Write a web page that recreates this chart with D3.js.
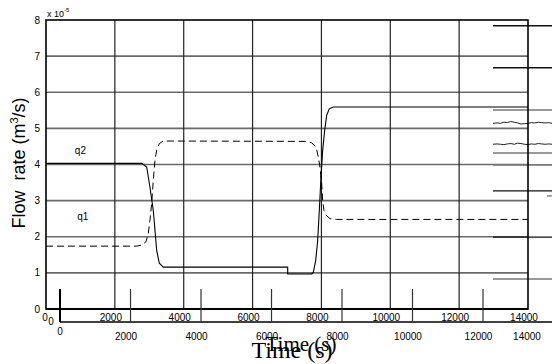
<!DOCTYPE html>
<html><head><meta charset="utf-8">
<script src="https://cdn.jsdelivr.net/npm/d3@7/dist/d3.min.js"></script>
<style>
html,body{margin:0;padding:0;background:#fff;}
svg{display:block;}
text{font-family:"Liberation Sans",Arial,sans-serif;fill:#000;}
</style></head>
<body>
<svg id="c" width="552" height="364"></svg>
<script>
// ---- data ----
const timeTicks = [0, 2000, 4000, 6000, 8000, 10000, 12000, 14000];
const flowTicks = [0, 1, 2, 3, 4, 5, 6, 7, 8];
const secondTicks = [0, 2000, 4000, 6000, 8000, 10000, 12000];
// q2 (solid), time in s, flow in 1e-5 m3/s
const q2Time = [0, 2780, 2925, 3020, 3117, 3166, 3215, 3291, 3407, 7020, 7020, 7717, 7763, 7833, 7891, 7938, 7987, 8036, 8094, 8152, 8228, 8344, 14000];
const q2Flow = [4.03, 4.03, 3.93, 3.37, 2.72, 2.17, 1.62, 1.27, 1.16, 1.16, 0.97, 0.97, 1.01, 1.34, 1.89, 2.72, 3.65, 4.39, 4.94, 5.36, 5.54, 5.59, 5.59];
// q1 (dashed)
const q1Time = [0, 2634, 2780, 2904, 2971, 3020, 3070, 3117, 3166, 3215, 3291, 3407, 7572, 7717, 7842, 7909, 7958, 8007, 8036, 8074, 8133, 8249, 8443, 14000];
const q1Flow = [1.74, 1.74, 1.77, 1.86, 2.09, 2.46, 2.93, 3.57, 4.12, 4.40, 4.58, 4.65, 4.64, 4.60, 4.49, 4.21, 3.93, 3.47, 3.01, 2.73, 2.60, 2.50, 2.48, 2.48];
// stray scan lines on the right (flow levels)
const strayLevels = [7.84, 6.68, 5.51, 4.32, 3.99, 3.27, 1.99, 0.83];
const strayDark = [true, true, false, false, false, true, true, false];
const strayStart = 12983, strayEnd = 14700;
const wavyTime = [12983, 13100, 13200, 13300, 13400, 13500, 13600, 13700, 13800, 13900, 14000, 14100, 14200, 14300, 14400, 14500, 14600, 14700];
const wavyA = [5.14, 5.15, 5.14, 5.17, 5.16, 5.19, 5.17, 5.15, 5.12, 5.13, 5.14, 5.16, 5.15, 5.17, 5.16, 5.15, 5.16, 5.14];
const wavyB = [4.56, 4.57, 4.56, 4.55, 4.57, 4.58, 4.56, 4.59, 4.58, 4.56, 4.55, 4.57, 4.56, 4.58, 4.57, 4.56, 4.57, 4.56];
const labels = [{name: "q2", t: 1000, v: 4.3}, {name: "q1", t: 1070, v: 2.45}];

// ---- chart ----
const svg = d3.select("#c");
const x = d3.scaleLinear().domain([0, 14000]).range([46, 528]);
const y = d3.scaleLinear().domain([0, 8]).range([309, 20]);
const x2 = d3.scaleLinear().domain([0, 14000]).range([60, 553.5]);

// horizontal grid
svg.append("g").selectAll("line").data(flowTicks.slice(1, 8)).join("line")
  .attr("x1", x(0)).attr("x2", x(14000)).attr("y1", d => y(d)).attr("y2", d => y(d))
  .attr("stroke", "#6a6a6a").attr("stroke-width", 1.6);
// vertical grid
svg.append("g").selectAll("line").data(timeTicks.slice(1, 7)).join("line")
  .attr("x1", d => x(d)).attr("x2", d => x(d)).attr("y1", y(8)).attr("y2", y(0))
  .attr("stroke", "#222").attr("stroke-width", 1.2);

// stray lines
svg.append("g").selectAll("line").data(strayLevels).join("line")
  .attr("x1", x(strayStart)).attr("x2", x(strayEnd))
  .attr("y1", d => y(d)).attr("y2", d => y(d))
  .attr("stroke", (d, i) => strayDark[i] ? "#111" : "#777")
  .attr("stroke-width", (d, i) => strayDark[i] ? 1.4 : 1.6);
svg.append("line").attr("x1", x(14551)).attr("x2", x(14700)).attr("y1", y(3.13)).attr("y2", y(3.13))
  .attr("stroke", "#777").attr("stroke-width", 1.3);
const wline = d3.line().x(d => x(d[0])).y(d => y(d[1]));
[wavyA, wavyB].forEach(arr => {
  svg.append("path").attr("d", wline(wavyTime.map((t, i) => [t, arr[i]])))
    .attr("fill", "none").attr("stroke", "#222").attr("stroke-width", 1);
});

// frame
svg.append("rect").attr("x", x(0)).attr("y", y(8)).attr("width", x(14000) - x(0)).attr("height", y(0) - y(8))
  .attr("fill", "none").attr("stroke", "#000").attr("stroke-width", 1.6);
svg.append("line").attr("x1", x(0)).attr("x2", x(14000)).attr("y1", y(0)).attr("y2", y(0))
  .attr("stroke", "#000").attr("stroke-width", 2.2);

// curves
const line = d3.line().x(d => x(d[0])).y(d => y(d[1]));
svg.append("path").attr("d", line(q1Time.map((t, i) => [t, q1Flow[i]])))
  .attr("fill", "none").attr("stroke", "#000").attr("stroke-width", 1).attr("stroke-dasharray", "7,4");
svg.append("path").attr("d", line(q2Time.map((t, i) => [t, q2Flow[i]])))
  .attr("fill", "none").attr("stroke", "#000").attr("stroke-width", 1.1);

// series labels
svg.append("g").selectAll("text").data(labels).join("text")
  .attr("x", d => x(d.t)).attr("y", d => y(d.v)).attr("text-anchor", "middle")
  .attr("font-size", 10).text(d => d.name);

// y tick labels
svg.append("g").selectAll("text").data(flowTicks).join("text")
  .attr("x", 40).attr("y", d => y(d) + 3.5).attr("text-anchor", "end")
  .attr("font-size", 10).text(d => d);
// multiplier
const mult = svg.append("text").attr("x", 47).attr("y", 17).attr("font-size", 9);
mult.append("tspan").text("x 10");
mult.append("tspan").attr("dy", -5).attr("font-size", 6).text("-5");

// main x tick labels
svg.append("g").selectAll("text").data(timeTicks).join("text")
  .attr("x", d => x(d) - 4 + (d === 0 ? 3 : 0)).attr("y", 320.5).attr("text-anchor", "middle")
  .attr("font-size", 10).text(d => d);
svg.append("text").attr("x", 51).attr("y", 324.5).attr("text-anchor", "middle").attr("font-size", 10).text("0");

// second axis
const ax2 = svg.append("g").attr("transform", "translate(0,322)");
ax2.append("line").attr("x1", x2(0)).attr("x2", 552).attr("y1", 0).attr("y2", 0)
  .attr("stroke", "#000").attr("stroke-width", 1.6);
ax2.selectAll("line.tk").data(secondTicks).join("line").attr("class", "tk")
  .attr("x1", d => x2(d)).attr("x2", d => x2(d)).attr("y1", 0).attr("y2", -33)
  .attr("stroke", d => d === 0 ? "#000" : "#333").attr("stroke-width", d => d === 0 ? 2 : 1.2);
ax2.selectAll("text").data(secondTicks).join("text")
  .attr("x", d => d === 0 ? x2(d) : x2(d) - 4.5).attr("y", d => d === 0 ? 12.5 : 17.5)
  .attr("text-anchor", "middle").attr("font-size", 10).text(d => d);
ax2.append("text").attr("x", 527).attr("y", 17.5).attr("text-anchor", "middle").attr("font-size", 10).text(14000);

// axis titles
const yt = svg.append("text").attr("transform", "translate(25,163) rotate(-90)")
  .attr("text-anchor", "middle").attr("font-size", 18).attr("xml:space", "preserve").style("white-space", "pre");
yt.append("tspan").text("Flow  rate (m");
yt.append("tspan").attr("dy", -7).attr("font-size", 11).text("3");
yt.append("tspan").attr("dy", 7).text("/s)");

svg.append("text").attr("x", 301).attr("y", 351).attr("text-anchor", "middle")
  .style("font-family", "'Liberation Serif','Times New Roman',serif").attr("font-size", 21).text("Time (s)");
svg.append("text").attr("x", 292).attr("y", 358).attr("text-anchor", "middle")
  .style("font-family", "'Liberation Serif','Times New Roman',serif").attr("font-size", 24).text("Time (s)");
</script>
</body></html>
